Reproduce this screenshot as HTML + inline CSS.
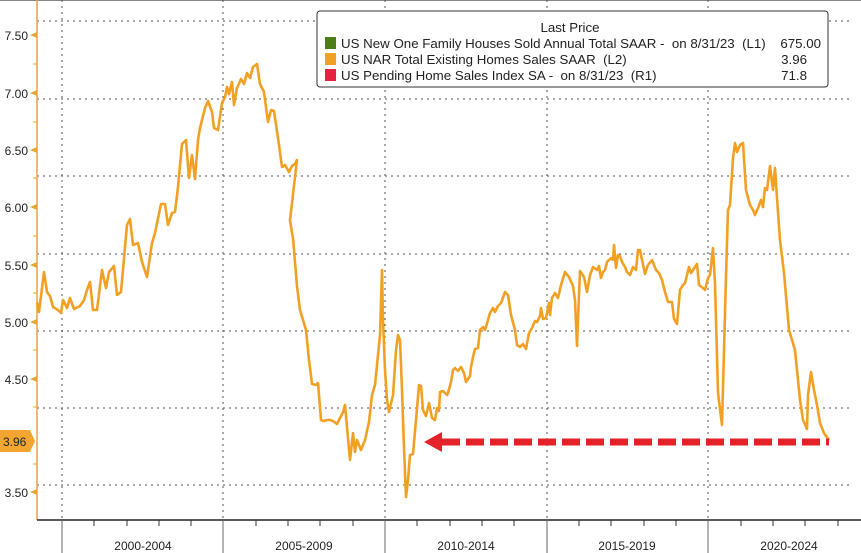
<!DOCTYPE html>
<html><head><meta charset="utf-8"><style>
body{margin:0;background:#fff;}
svg{display:block;font-family:"Liberation Sans",sans-serif;}
.pre{white-space:pre;}
</style></head><body>
<svg width="861" height="553" viewBox="0 0 861 553">
<rect width="861" height="553" fill="#fff"/>
<line x1="0" y1="0.5" x2="861" y2="0.5" stroke="#888" stroke-width="1"/>
<g stroke="#555" stroke-width="1" stroke-dasharray="2,4">
<line x1="37" y1="21" x2="850" y2="21"/>
<line x1="37" y1="99" x2="850" y2="99"/>
<line x1="37" y1="176" x2="850" y2="176"/>
<line x1="37" y1="254" x2="850" y2="254"/>
<line x1="37" y1="331" x2="850" y2="331"/>
<line x1="37" y1="408" x2="850" y2="408"/>
<line x1="37" y1="485" x2="850" y2="485"/>
<line x1="62" y1="0" x2="62" y2="520"/>
<line x1="223" y1="0" x2="223" y2="520"/>
<line x1="385" y1="0" x2="385" y2="520"/>
<line x1="547" y1="0" x2="547" y2="520"/>
<line x1="708" y1="0" x2="708" y2="520"/>
</g>
<line x1="37" y1="0" x2="37" y2="520" stroke="#e8a33a" stroke-width="1.5"/>
<line x1="37" y1="520" x2="861" y2="520" stroke="#222" stroke-width="1.5"/>
<g stroke="#666" stroke-width="1">
<line x1="62" y1="520" x2="62" y2="553"/><line x1="223" y1="520" x2="223" y2="553"/>
<line x1="385" y1="520" x2="385" y2="553"/><line x1="547" y1="520" x2="547" y2="553"/>
<line x1="708" y1="520" x2="708" y2="553"/>
</g>
<g stroke="#333" stroke-width="1">
<line x1="94" y1="520" x2="94" y2="526"/><line x1="127" y1="520" x2="127" y2="526"/><line x1="159" y1="520" x2="159" y2="526"/><line x1="191" y1="520" x2="191" y2="526"/>
<line x1="256" y1="520" x2="256" y2="526"/><line x1="288" y1="520" x2="288" y2="526"/><line x1="320" y1="520" x2="320" y2="526"/><line x1="353" y1="520" x2="353" y2="526"/>
<line x1="417" y1="520" x2="417" y2="526"/><line x1="450" y1="520" x2="450" y2="526"/><line x1="482" y1="520" x2="482" y2="526"/><line x1="514" y1="520" x2="514" y2="526"/>
<line x1="579" y1="520" x2="579" y2="526"/><line x1="611" y1="520" x2="611" y2="526"/><line x1="644" y1="520" x2="644" y2="526"/><line x1="676" y1="520" x2="676" y2="526"/>
<line x1="741" y1="520" x2="741" y2="526"/><line x1="773" y1="520" x2="773" y2="526"/><line x1="805" y1="520" x2="805" y2="526"/><line x1="838" y1="520" x2="838" y2="526"/>
</g>
<g font-size="12" fill="#222" text-anchor="middle">
<text x="143" y="550">2000-2004</text><text x="304" y="550">2005-2009</text>
<text x="466" y="550">2010-2014</text><text x="627" y="550">2015-2019</text>
<text x="789" y="550">2020-2024</text>
</g>
<g font-size="12" fill="#222" text-anchor="end">
<text x="28" y="40">7.50</text><text x="28" y="98">7.00</text><text x="28" y="155">6.50</text>
<text x="28" y="212">6.00</text><text x="28" y="270">5.50</text><text x="28" y="327">5.00</text>
<text x="28" y="384">4.50</text><text x="28" y="497">3.50</text>
</g>
<g fill="#e8a33a">
<path d="M30,35 l7,-3 v6z"/><path d="M30,93 l7,-3 v6z"/><path d="M30,150 l7,-3 v6z"/><path d="M30,207 l7,-3 v6z"/><path d="M30,265 l7,-3 v6z"/><path d="M30,322 l7,-3 v6z"/><path d="M30,379 l7,-3 v6z"/><path d="M30,492 l7,-3 v6z"/>
</g>
<g stroke="#e8a33a" stroke-width="1"><line x1="33" y1="64" x2="37" y2="64"/><line x1="33" y1="122" x2="37" y2="122"/><line x1="33" y1="178" x2="37" y2="178"/><line x1="33" y1="236" x2="37" y2="236"/><line x1="33" y1="293" x2="37" y2="293"/><line x1="33" y1="350" x2="37" y2="350"/><line x1="33" y1="407" x2="37" y2="407"/><line x1="33" y1="464" x2="37" y2="464"/></g>
<path d="M0,430 H30 L35,441 L30,452 H0Z" fill="#f2a531"/>
<text x="3" y="446" font-size="12" fill="#222">3.96</text>
<polyline fill="none" stroke="#f2a024" stroke-width="2.6" stroke-linejoin="round" points="37,302 39,312 44,272 47,292 50,296 53,307 58,310 61,313 63,300 67,308 70,298 74,309 80,306 84,300 87,290 90,282 93,310 97,310 102,270 106,288 109,272 114,266 117,295 121,292 127,225 130,219 133,245 138,243 142,262 147,277 152,243 155,233 161,204 165,204 168,225 172,213 175,212 178,187 182,144 186,140 189,178 192,155 195,179 198,140 200,128 205,108 208,101 212,112 214,128 218,130 222,103 225,97 227,87 229,94 232,82 234,105 237,88 241,79 244,84 247,73 250,78 253,67 257,64 260,84 264,92 268,122 271,110 274,111 279,145 282,167 285,165 289,172 292,166 295,164 297,160 290,220 292,233 293,238 297,286 300,310 303,320 306,330 309,360 312,384 316,385 318,383 321,420 324,421 327,420 330,420 333,421 337,424 340,418 343,412 345,405 350,460 353,433 355,452 357,440 361,450 365,440 369,422 372,395 375,385 377,365 380,335 382,270 383,320 385,370 387,400 389,412 393,395 396,350 398,335 400,340 402,390 404,448 406,497 408,480 410,455 413,454 416,420 419,385 421,386 423,410 426,416 429,403 432,418 435,420 437,408 439,411 440,392 443,391 447,395 448,393 451,382 453,370 455,368 458,371 461,367 464,373 466,382 470,376 471,367 473,357 475,349 478,348 480,330 483,327 485,330 488,320 490,313 493,308 495,312 498,306 501,303 505,292 508,295 511,315 515,330 517,345 520,347 523,344 526,349 529,333 532,328 535,321 537,322 540,316 541,308 543,319 546,318 549,303 550,315 552,298 555,293 558,298 561,285 565,272 569,277 573,286 575,300 577,346 578,320 580,271 584,277 587,292 590,275 593,267 597,270 599,266 601,278 603,272 605,270 607,262 611,258 613,260 614,245 616,268 618,255 620,256 622,262 625,267 627,272 630,275 633,267 636,270 638,250 640,250 642,260 645,274 648,265 652,260 656,270 659,273 662,280 665,292 668,302 672,302 674,319 677,324 680,290 683,285 685,283 689,267 691,273 693,270 697,264 699,285 703,288 705,290 708,278 710,275 713,248 715,283 718,393 722,425 726,276 728,210 730,205 733,158 735,143 737,152 740,145 743,143 746,190 750,205 753,210 755,215 758,208 761,200 763,207 764,197 765,188 767,190 770,166 773,190 775,168 777,198 780,240 784,273 789,330 795,350 798,380 800,400 803,420 807,429 808,395 811,372 814,390 817,405 820,423 824,433 829,440"/>
<line x1="442" y1="442" x2="829" y2="442" stroke="#e52229" stroke-width="7" stroke-dasharray="18,6"/>
<path d="M424,442 L442,432 V452Z" fill="#e52229"/>
<rect x="317" y="11" width="511" height="76" fill="#fff" stroke="#333" stroke-width="1" rx="3"/>
<g font-size="13.3" fill="#222" class="pre">
<text x="570" y="32" text-anchor="middle">Last Price</text>
<rect x="325" y="37" width="11" height="12" fill="#4e7d17"/>
<text x="341" y="48" xml:space="preserve">US New One Family Houses Sold Annual Total SAAR -  on 8/31/23  (L1)</text>
<text x="821" y="48" text-anchor="end">675.00</text>
<rect x="325" y="53" width="11" height="12" fill="#f2a024"/>
<text x="341" y="64" xml:space="preserve">US NAR Total Existing Homes Sales SAAR  (L2)</text>
<text x="807" y="64" text-anchor="end">3.96</text>
<rect x="325" y="69" width="11" height="12" fill="#e52240"/>
<text x="341" y="80" xml:space="preserve">US Pending Home Sales Index SA -  on 8/31/23  (R1)</text>
<text x="807" y="80" text-anchor="end">71.8</text>
</g>
</svg>
</body></html>
